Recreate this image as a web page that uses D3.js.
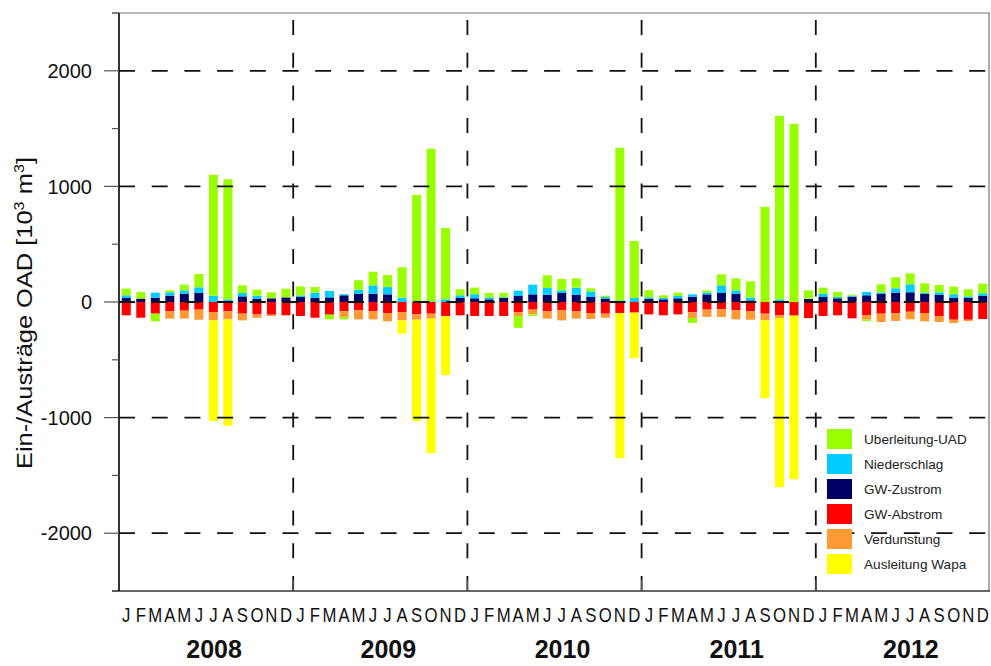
<!DOCTYPE html>
<html>
<head>
<meta charset="utf-8">
<script src="https://cdn.jsdelivr.net/npm/d3@7"></script>
<style>
    body { margin: 0; background: #fff; }
    text { font-family: Arial, "Liberation Sans", sans-serif; }
</style>
</head>
<body>
<div id="chart"></div>
<script>
// months and years on the x axis
const month_letters = ["J","F","M","A","M","J","J","A","S","O","N","D"];
const years = ["2008","2009","2010","2011","2012"];
const y_ticks = [2000, 1000, 0, -1000, -2000];

// inflows (positive), 10^3 m3, Jan..Dec per year
const gw_zustrom = [
    35,29,38,55,72,78,0,0,49,29,32,40,
    43,35,40,58,72,72,66,0,0,0,0,35,
    32,23,35,52,66,63,78,61,43,29,0,0,
    29,23,32,46,66,78,72,14,0,0,0,26,
    43,32,46,58,72,81,84,72,61,38,35,52
];
const niederschlag = [
    23,0,43,29,29,49,55,23,29,26,0,0,
    14,46,55,9,35,72,63,38,0,6,23,23,
    35,17,6,46,84,58,23,63,49,14,14,35,
    12,12,20,20,17,66,29,26,0,23,0,3,
    29,12,9,29,12,38,69,9,23,29,14,23
];
const ueberleitung = [
    58,58,-66,17,49,115,1045,1039,66,52,52,75,
    78,49,-40,-20,81,118,104,263,927,1320,618,52,
    58,38,38,-101,-14,110,98,81,26,12,1320,493,
    61,23,29,-43,17,95,104,139,823,1588,1541,72,
    52,43,9,-12,69,95,95,81,63,66,61,84
];
// outflows (negative)
const gw_abstrom = [
    -115,-136,-101,-81,-75,-66,-87,-81,-101,-107,-110,-115,
    -121,-136,-110,-81,-72,-81,-95,-87,-107,-101,-121,-115,
    -121,-121,-121,-87,-66,-81,-72,-81,-95,-101,-95,-87,
    -107,-115,-107,-89,-66,-63,-72,-81,-101,-115,-118,-139,
    -121,-115,-141,-115,-101,-98,-84,-95,-121,-153,-153,-147
];
const verdunstung = [
    0,0,0,-63,-69,-87,-72,-69,-58,-29,-12,0,
    0,0,0,-49,-78,-69,-72,-72,-46,-43,0,0,
    0,0,0,-35,-40,-63,-87,-63,-52,-35,0,-9,
    0,0,0,-49,-63,-66,-78,-72,-58,-23,0,0,
    0,0,0,-38,-72,-66,-66,-72,-52,-29,-12,0
];
const ausleitung = [
    0,0,0,0,0,0,-871,-921,0,0,0,0,
    0,0,0,0,0,0,0,-115,-877,-1164,-511,0,
    0,0,0,0,0,0,0,0,0,0,-1256,-389,
    0,0,0,0,0,0,0,0,-672,-1464,-1415,0,
    0,0,0,0,0,0,0,0,0,0,0,0
];

// legend order = picture order
const series = [
    { key: "ueberleitung", label: "Uberleitung-UAD", color: "#99ff00", values: ueberleitung },
    { key: "niederschlag", label: "Niederschlag", color: "#00ccff", values: niederschlag },
    { key: "gw_zustrom", label: "GW-Zustrom", color: "#000066", values: gw_zustrom },
    { key: "gw_abstrom", label: "GW-Abstrom", color: "#ff0000", values: gw_abstrom },
    { key: "verdunstung", label: "Verdunstung", color: "#ff9933", values: verdunstung },
    { key: "ausleitung", label: "Ausleitung Wapa", color: "#ffff00", values: ausleitung }
];
// stacking order away from zero
const stack_order = ["gw_zustrom", "niederschlag", "gw_abstrom", "verdunstung", "ausleitung", "ueberleitung"];

const W = 991, H = 666;
const margin = { top: 13, bottom: 75, left: 119, right: 1 };
const width = W - margin.left - margin.right;
const height = H - margin.top - margin.bottom;

const svg = d3.select("#chart").append("svg")
    .attr("width", W)
    .attr("height", H);

const canvas = svg.append("g")
    .attr("transform", `translate(${margin.left},${margin.top})`);

// one row per month
var rows = [];
years.forEach(function (y, yi) {
    month_letters.forEach(function (m, mi) {
        var row = { id: yi * 12 + mi, year: y, month: m };
        series.forEach(function (s) { row[s.key] = s.values[yi * 12 + mi]; });
        rows.push(row);
    });
});

const xScale = d3.scaleBand()
    .domain(rows.map(function (d) { return d.id; }))
    .range([0, width])
    .paddingInner(0.38)
    .paddingOuter(0.19);

const yScale = d3.scaleLinear()
    .domain([-2500, 2500])
    .range([height, 0]);

const color = {};
series.forEach(function (s) { color[s.key] = s.color; });

const stacked = d3.stack()
    .keys(stack_order)
    .offset(d3.stackOffsetDiverging)(rows);

// bars
canvas.append("g")
    .selectAll("g")
    .data(stacked)
    .join("g")
    .attr("fill", function (d) { return color[d.key]; })
    .selectAll("rect")
    .data(function (d) { return d; })
    .join("rect")
    .attr("x", function (d) { return xScale(d.data.id); })
    .attr("width", xScale.bandwidth())
    .attr("y", function (d) { return yScale(Math.max(d[0], d[1])); })
    .attr("height", function (d) { return Math.abs(yScale(d[0]) - yScale(d[1])); });

// dashed grid on top of the bars
const step = xScale.step();
canvas.append("g")
    .selectAll("line")
    .data(y_ticks)
    .join("line")
    .attr("x1", 0)
    .attr("x2", width)
    .attr("y1", function (d) { return yScale(d); })
    .attr("y2", function (d) { return yScale(d); })
    .attr("stroke", "#111")
    .attr("stroke-width", 1.8)
    .attr("stroke-dasharray", "16,16.7");

canvas.append("g")
    .selectAll("line")
    .data(years.slice(1))
    .join("line")
    .attr("x1", function (d, i) { return (i + 1) * 12 * step; })
    .attr("x2", function (d, i) { return (i + 1) * 12 * step; })
    .attr("y1", 0)
    .attr("y2", height)
    .attr("stroke", "#111")
    .attr("stroke-width", 1.8)
    .attr("stroke-dasharray", "15,17.7")
    .attr("stroke-dashoffset", 25.7);

// frame
canvas.append("line")
    .attr("x1", -7).attr("x2", width).attr("y1", 0).attr("y2", 0)
    .attr("stroke", "#777").attr("stroke-width", 1.2);
canvas.append("line")
    .attr("x1", width - 1).attr("x2", width - 1).attr("y1", 0).attr("y2", height)
    .attr("stroke", "#777").attr("stroke-width", 1.2);
canvas.append("line")
    .attr("x1", -7).attr("x2", width).attr("y1", height).attr("y2", height)
    .attr("stroke", "#333").attr("stroke-width", 1.4);
canvas.append("line")
    .attr("x1", 0).attr("x2", 0).attr("y1", 0).attr("y2", height)
    .attr("stroke", "#000").attr("stroke-width", 1.6);

// y ticks every 500, long ones at the labels
const minor = d3.range(-2500, 2501, 500);
canvas.append("g")
    .selectAll("line")
    .data(minor)
    .join("line")
    .attr("x1", function (d) { return d % 1000 === 0 ? -15 : -7; })
    .attr("x2", 0)
    .attr("y1", function (d) { return yScale(d); })
    .attr("y2", function (d) { return yScale(d); })
    .attr("stroke", "#555")
    .attr("stroke-width", 1.2);

canvas.append("g")
    .selectAll("text")
    .data(y_ticks)
    .join("text")
    .attr("x", -27)
    .attr("y", function (d) { return yScale(d); })
    .attr("dy", "0.36em")
    .attr("text-anchor", "end")
    .style("font-size", "20px")
    .attr("fill", "#111")
    .text(function (d) { return d; });

// year separator ticks on the x axis
canvas.append("g")
    .selectAll("line")
    .data(years.slice(1))
    .join("line")
    .attr("x1", function (d, i) { return (i + 1) * 12 * step; })
    .attr("x2", function (d, i) { return (i + 1) * 12 * step; })
    .attr("y1", height - 11)
    .attr("y2", height)
    .attr("stroke", "#555")
    .attr("stroke-width", 1.2);

// month letters
canvas.append("g")
    .selectAll("text")
    .data(rows)
    .join("text")
    .attr("transform", function (d) {
        return `translate(${xScale(d.id) + xScale.bandwidth() / 2},${height + 31}) scale(0.86,1)`;
    })
    .attr("text-anchor", "middle")
    .style("font-size", "19.5px")
    .attr("fill", "#111")
    .text(function (d) { return d.month; });

// years
canvas.append("g")
    .selectAll("text")
    .data(years)
    .join("text")
    .attr("x", function (d, i) { return (i * 12 + 6) * step + 8; })
    .attr("y", height + 67)
    .attr("text-anchor", "middle")
    .style("font-size", "25px")
    .style("font-weight", "bold")
    .attr("fill", "#111")
    .text(function (d) { return d; });

// y axis title
const ytitle = svg.append("text")
    .attr("transform", "translate(32,313) rotate(-90)")
    .attr("text-anchor", "middle")
    .style("font-size", "22px")
    .attr("fill", "#111")
    .attr("textLength", 312)
    .attr("lengthAdjust", "spacingAndGlyphs");
ytitle.append("tspan").text("Ein-/Austräge OAD [10");
ytitle.append("tspan").attr("baseline-shift", "super").style("font-size", "14px").text("3");
ytitle.append("tspan").text(" m");
ytitle.append("tspan").attr("baseline-shift", "super").style("font-size", "14px").text("3");
ytitle.append("tspan").text("]");

// legend, text cut off at the right like the picture
const legend = svg.append("g")
    .attr("transform", "translate(827,429)");

legend.append("clipPath")
    .attr("id", "legend-clip")
    .append("rect")
    .attr("x", -8).attr("y", -8).attr("width", 152).attr("height", 170);

const item = legend.append("g")
    .attr("clip-path", "url(#legend-clip)")
    .selectAll("g")
    .data(series)
    .join("g")
    .attr("transform", function (d, i) { return `translate(0,${i * 25})`; });

item.append("rect")
    .attr("width", 25)
    .attr("height", 20)
    .attr("fill", function (d) { return d.color; });

item.append("text")
    .attr("x", 37)
    .attr("y", 10)
    .attr("dy", "0.36em")
    .style("font-size", "13.6px")
    .attr("fill", "#222")
    .text(function (d) { return d.label; });
</script>
</body>
</html>
